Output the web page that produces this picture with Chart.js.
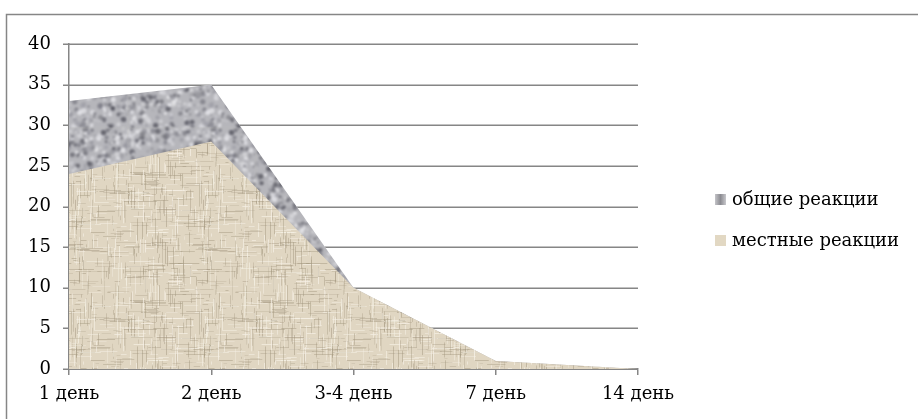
<!DOCTYPE html>
<html>
<head>
<meta charset="utf-8">
<script src="https://cdn.jsdelivr.net/npm/chart.js@4/dist/chart.umd.min.js"></script>
<style>
  html, body { margin: 0; padding: 0; background: #fff; }
  #wrap { position: relative; width: 918px; height: 419px; background: #fff; }
  canvas { display: block; }
</style>
</head>
<body>
<div id="wrap"><canvas id="c" width="918" height="419"></canvas></div>
<script>
// Days after vaccination
const days = ['1 день', '2 день', '3-4 день', '7 день', '14 день'];
// Number of reactions per day
const generalReactions = [33, 35, 10, 1, 0];
const localReactions = [24, 28, 10, 1, 0];
const seriesNames = ['общие реакции', 'местные реакции'];
const yTicks = [0, 5, 10, 15, 20, 25, 30, 35, 40];

const FONT = '"DejaVu Serif", "Liberation Serif", serif';
const GRID = '#868686';

// Small deterministic generator for the fill textures
function prng(seed) {
  return function () {
    seed |= 0; seed = seed + 0x6D2B79F5 | 0;
    let t = Math.imul(seed ^ seed >>> 15, 1 | seed);
    t = t + Math.imul(t ^ t >>> 7, 61 | t) ^ t;
    return ((t ^ t >>> 14) >>> 0) / 4294967296;
  };
}

// Paints a tile, then softens it while keeping the edges seamless
function seamless(s, blur, paint) {
  const tile = document.createElement('canvas');
  tile.width = s; tile.height = s;
  paint(tile.getContext('2d'), s);
  const big = document.createElement('canvas');
  big.width = s * 3; big.height = s * 3;
  const b = big.getContext('2d');
  b.filter = 'blur(' + blur + 'px)';
  for (let i = 0; i < 3; i++) for (let j = 0; j < 3; j++) b.drawImage(tile, i * s, j * s);
  const out = document.createElement('canvas');
  out.width = s; out.height = s;
  const o = out.getContext('2d');
  o.fillStyle = '#bbb';
  o.fillRect(0, 0, s, s);
  o.drawImage(big, s, s, s, s, 0, 0, s, s);
  return out;
}

// Granite-like grey texture
function graniteTile() {
  return seamless(128, 0.8, (g, s) => {
    const r = prng(7);
    g.fillStyle = '#b6b6bb';
    g.fillRect(0, 0, s, s);
    for (let i = 0; i < 950; i++) {
      const x = r() * s, y = r() * s, rad = 0.9 + r() * 1.9;
      const v = r();
      let c;
      if (v < 0.36) c = 'rgba(78,78,88,' + (0.3 + r() * 0.5) + ')';
      else if (v < 0.72) c = 'rgba(228,228,232,' + (0.4 + r() * 0.5) + ')';
      else c = 'rgba(150,150,158,' + (0.4 + r() * 0.4) + ')';
      g.fillStyle = c;
      for (const dx of [-s, 0, s]) for (const dy of [-s, 0, s]) {
        g.beginPath(); g.arc(x + dx, y + dy, rad, 0, Math.PI * 2); g.fill();
      }
    }
  });
}

// Linen-like beige texture
function linenTile() {
  return seamless(128, 0.3, (g, s) => {
    const r = prng(11);
    g.fillStyle = '#e0d6c2';
    g.fillRect(0, 0, s, s);
    for (let i = 0; i < 560; i++) {
      const horiz = r() < 0.5;
      const p = Math.floor(r() * s) + 0.5;
      const a = r() * s, len = 3 + r() * 20;
      const v = r();
      g.strokeStyle = v < 0.6 ? 'rgba(160,148,124,' + (0.18 + r() * 0.3) + ')'
                              : 'rgba(246,241,230,' + (0.3 + r() * 0.4) + ')';
      g.lineWidth = 1;
      g.beginPath();
      for (const off of [0, -s]) {
        if (horiz) { g.moveTo(a + off, p); g.lineTo(a + off + len, p); }
        else { g.moveTo(p, a + off); g.lineTo(p, a + off + len); }
      }
      g.stroke();
    }
  });
}

const ctx = document.getElementById('c').getContext('2d');
const granite = ctx.createPattern(graniteTile(), 'repeat');
const linen = ctx.createPattern(linenTile(), 'repeat');

// Value lines (only where no area is filled), tick marks and outer frame
const backdropPlugin = {
  id: 'backdrop',
  afterDraw(chart) {
    const c = chart.ctx;
    const y = chart.scales.y;
    const { left, right, top, bottom } = chart.chartArea;
    const pts = chart.getDatasetMeta(1).data;
    const y0 = y.getPixelForValue(0);
    c.save();
    c.globalCompositeOperation = 'destination-over';
    c.strokeStyle = GRID;
    c.lineWidth = 1.5;

    // tick marks left of the value axis
    yTicks.forEach(v => {
      const py = Math.round(y.getPixelForValue(v)) + 0.25;
      c.beginPath();
      c.moveTo(left - 6, py);
      c.lineTo(left, py);
      c.stroke();
    });

    // value lines clipped to the empty part of the plot
    c.save();
    c.beginPath();
    c.rect(left, top - 2, right - left + 2, bottom - top + 4);
    c.moveTo(pts[0].x, y0);
    pts.forEach(p => c.lineTo(p.x, p.y));
    c.lineTo(pts[pts.length - 1].x, y0);
    c.closePath();
    c.clip('evenodd');
    yTicks.forEach(v => {
      const py = Math.round(y.getPixelForValue(v)) + 0.25;
      c.beginPath();
      c.moveTo(left, py);
      c.lineTo(right, py);
      c.stroke();
    });
    c.restore();

    c.strokeRect(6.5, 14.5, chart.width + 20, chart.height + 20);
    c.fillStyle = '#fff';
    c.fillRect(0, 0, chart.width, chart.height);
    c.restore();
  }
};

// Legend on the right
const legendPlugin = {
  id: 'sideLegend',
  afterDraw(chart) {
    const c = chart.ctx;
    c.save();
    c.font = '18px ' + FONT;
    c.textBaseline = 'middle';
    [seriesNames[0], seriesNames[1]].forEach((label, i) => {
      const y = 200 + i * 41;
      const x = 715;
      if (i === 0) {
        const gr = c.createLinearGradient(x, 0, x + 11, 0);
        gr.addColorStop(0, '#c4c4c8');
        gr.addColorStop(0.5, '#8c8c92');
        gr.addColorStop(1, '#c8c8cc');
        c.fillStyle = gr;
      } else {
        c.fillStyle = '#e2d8c3';
      }
      c.fillRect(x, y - 6, 11, 11);
      c.fillStyle = '#000';
      c.fillText(label, x + 17, y);
    });
    c.restore();
  }
};

new Chart(ctx, {
  type: 'line',
  data: {
    labels: days,
    datasets: [
      {
        label: seriesNames[1],
        data: localReactions,
        backgroundColor: linen,
        borderWidth: 0,
        borderColor: 'rgba(0,0,0,0)',
        pointRadius: 0,
        fill: 'origin',
        tension: 0
      },
      {
        label: seriesNames[0],
        data: generalReactions,
        backgroundColor: granite,
        borderWidth: 0,
        borderColor: 'rgba(0,0,0,0)',
        pointRadius: 0,
        fill: 'origin',
        tension: 0
      }
    ]
  },
  options: {
    responsive: false,
    animation: false,
    events: [],
    layout: { padding: { left: 0, right: 280, top: 44, bottom: 0 } },
    plugins: { legend: { display: false }, tooltip: { enabled: false } },
    scales: {
      x: {
        offset: false,
        grid: { drawOnChartArea: false, drawTicks: true, tickLength: 6, color: GRID, lineWidth: 1.5 },
        border: { color: GRID, width: 1.5 },
        ticks: { color: '#000', font: { family: FONT, size: 18 }, padding: 9, maxRotation: 0, autoSkip: false },
        afterFit(s) { s.height = 50; }
      },
      y: {
        min: 0,
        max: 40,
        afterBuildTicks(s) { s.ticks = yTicks.map(v => ({ value: v })); },
        grid: { display: true, drawOnChartArea: false, color: 'rgba(0,0,0,0)', tickLength: 6, drawTicks: true },
        border: { color: GRID, width: 1.5 },
        ticks: { color: '#000', font: { family: FONT, size: 18 }, padding: 12 },
        afterFit(s) { s.width = 69; }
      }
    }
  },
  plugins: [backdropPlugin, legendPlugin]
});
</script>
</body>
</html>
